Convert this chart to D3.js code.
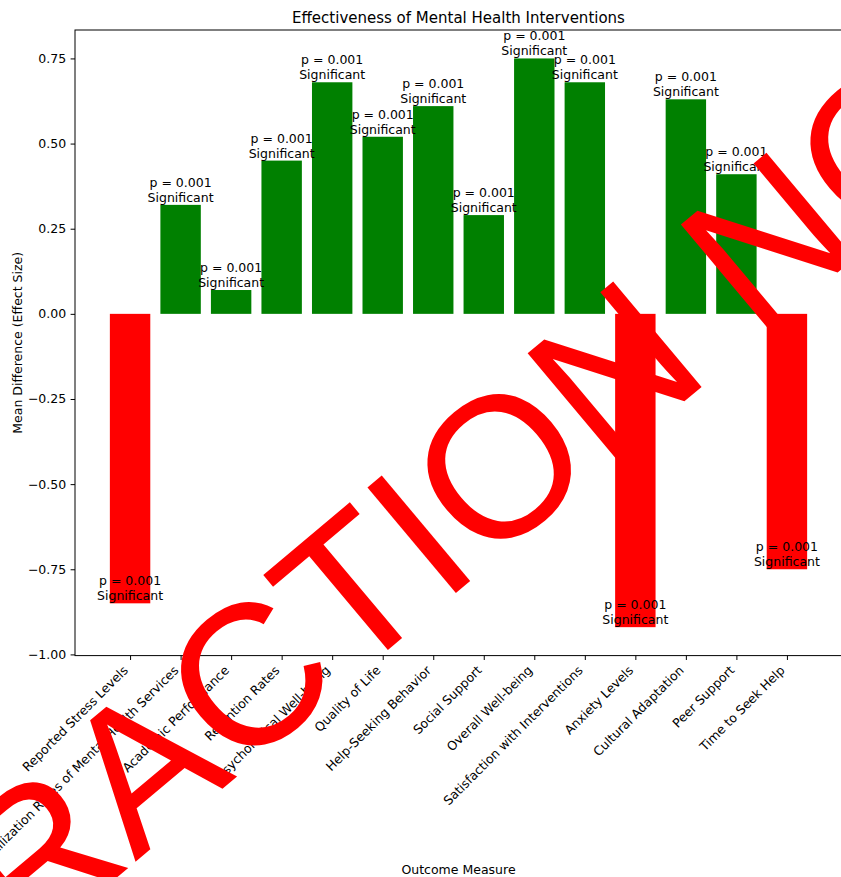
<!DOCTYPE html>
<html>
<head>
<meta charset="utf-8">
<script src="https://cdn.jsdelivr.net/npm/d3@7"></script>
<style>
  html, body { margin: 0; padding: 0; background: #ffffff; }
  svg { display: block; font-family: "DejaVu Sans", sans-serif; }
</style>
</head>
<body>
<svg id="chart" width="841" height="877"></svg>
<script>
// ---- data ----
const categories = [
  "Reported Stress Levels",
  "Utilization Rates of Mental Health Services",
  "Academic Performance",
  "Retention Rates",
  "Psychological Well-being",
  "Quality of Life",
  "Help-Seeking Behavior",
  "Social Support",
  "Overall Well-being",
  "Satisfaction with Interventions",
  "Anxiety Levels",
  "Cultural Adaptation",
  "Peer Support",
  "Time to Seek Help"
];
const effectSizes = [-0.85, 0.32, 0.07, 0.45, 0.68, 0.52, 0.61, 0.29, 0.75, 0.68, -0.92, 0.63, 0.41, -0.75];
const pValues = [0.001, 0.001, 0.001, 0.001, 0.001, 0.001, 0.001, 0.001, 0.001, 0.001, 0.001, 0.001, 0.001, 0.001];
const significance = ["Significant", "Significant", "Significant", "Significant", "Significant", "Significant", "Significant",
                      "Significant", "Significant", "Significant", "Significant", "Significant", "Significant", "Significant"];
const yTicks = [-1.00, -0.75, -0.50, -0.25, 0.00, 0.25, 0.50, 0.75];
const titleText = "Effectiveness of Mental Health Interventions";
const xLabelText = "Outcome Measure";
const yLabelText = "Mean Difference (Effect Size)";
const watermarkText = "RACTION NO";

// ---- layout ----
const W = 841, H = 877;
const axLeft = 75, axRight = 842, axTop = 30, axBottom = 655.6;
const fontSize = 12.5;
const svg = d3.select("#chart");

const n = categories.length;
const barW = 0.8;
const xPad = 0.05 * ((n - 1) + barW);
const x = d3.scaleLinear()
  .domain([-barW / 2 - xPad, (n - 1) + barW / 2 + xPad])
  .range([axLeft, axRight]);

const yMin = Math.min(0, d3.min(effectSizes)), yMax = Math.max(0, d3.max(effectSizes));
const yPad = 0.05 * (yMax - yMin);
const y = d3.scaleLinear()
  .domain([yMin - yPad, yMax + yPad])
  .range([axBottom, axTop]);

const green = "#008000", red = "#ff0000";

// bars
svg.append("g").selectAll("rect")
  .data(effectSizes)
  .join("rect")
  .attr("x", (d, i) => x(i - barW / 2))
  .attr("width", (d, i) => x(i + barW / 2) - x(i - barW / 2))
  .attr("y", d => y(Math.max(0, d)))
  .attr("height", d => Math.abs(y(d) - y(0)))
  .attr("fill", d => d < 0 ? red : green);

// annotations
const ann = svg.append("g")
  .attr("font-size", fontSize)
  .attr("fill", "#000")
  .attr("text-anchor", "middle");
effectSizes.forEach((d, i) => {
  const base = y(d) - 3;
  const t = ann.append("text").attr("x", x(i));
  t.append("tspan").attr("x", x(i)).attr("y", base - 15).text("p = " + d3.format(".3f")(pValues[i]));
  t.append("tspan").attr("x", x(i)).attr("y", base).text(significance[i]);
});

// axes
const tickLen = 4.4, tickPad = 4.4;
const yAxis = svg.append("g")
  .attr("transform", `translate(${axLeft},0)`)
  .call(d3.axisLeft(y).tickValues(yTicks).tickFormat(d3.format(".2f"))
    .tickSize(tickLen).tickPadding(tickPad).tickSizeOuter(0));
yAxis.selectAll("text").attr("font-size", fontSize).attr("font-family", "DejaVu Sans").attr("fill", "#000");
yAxis.selectAll("line").attr("stroke", "#000");
yAxis.select(".domain").remove();

const xAxis = svg.append("g")
  .attr("transform", `translate(0,${axBottom})`)
  .call(d3.axisBottom(x).tickValues(d3.range(n)).tickFormat(i => categories[i])
    .tickSize(tickLen).tickPadding(tickPad).tickSizeOuter(0));
xAxis.select(".domain").remove();
xAxis.selectAll("line").attr("stroke", "#000");
xAxis.selectAll("text")
  .attr("font-size", fontSize)
  .attr("font-family", "DejaVu Sans")
  .attr("fill", "#000")
  .attr("text-anchor", "end")
  .attr("x", 0).attr("y", 0).attr("dy", null)
  .attr("transform", `translate(-1.8,${tickLen + tickPad + 6.7}) rotate(-45)`);

// frame (spines)
svg.append("rect")
  .attr("x", axLeft).attr("y", axTop)
  .attr("width", axRight - axLeft).attr("height", axBottom - axTop)
  .attr("fill", "none").attr("stroke", "#000").attr("stroke-width", 1);

// title and labels
svg.append("text")
  .attr("x", (axLeft + axRight) / 2).attr("y", 23)
  .attr("text-anchor", "middle").attr("font-size", 15).attr("fill", "#000")
  .text(titleText);
svg.append("text")
  .attr("x", (axLeft + axRight) / 2).attr("y", 874)
  .attr("text-anchor", "middle").attr("font-size", fontSize).attr("fill", "#000")
  .text(xLabelText);
svg.append("text")
  .attr("transform", `translate(21.5,${(axTop + axBottom) / 2}) rotate(-90)`)
  .attr("text-anchor", "middle").attr("font-size", fontSize).attr("fill", "#000")
  .text(yLabelText);

// watermark overlay
svg.append("text")
  .attr("transform", "translate(24.7,954.8) rotate(-40)")
  .attr("font-family", "Liberation Sans")
  .attr("font-size", 200).attr("fill", red)
  .attr("text-anchor", "start")
  .text(watermarkText);
</script>
</body>
</html>
